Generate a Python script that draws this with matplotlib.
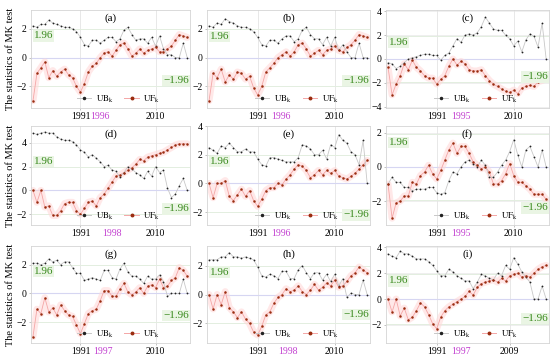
import numpy as np
import matplotlib
matplotlib.use("Agg")
import matplotlib.pyplot as plt
from matplotlib.lines import Line2D

plt.rcParams['font.family'] = ['Liberation Serif', 'DejaVu Serif']
plt.rcParams['mathtext.fontset'] = 'stix'

years = list(range(1979, 2019))
panel_labels = ['(a)', '(b)', '(c)', '(d)', '(e)', '(f)', '(g)', '(h)', '(i)']
change_years = [1996, 1996, 1995, 1998, 1996, 1995, 1997, 1998, 1997]
end_ticks = [2010, 2010, 2010, 2010, 2010, 2010, 2010, 2010, 2009]

uf_a = [-3.0, -1.1, -0.7, -0.3, -1.4, -0.9, -1.3, -1.0, -0.8, -1.2, -1.4, -2.0, -2.4, -1.8, -1.0, -0.6, -0.4, 0.0, 0.3, 0.4,
        0.1, 0.5, 0.9, 1.0, 0.6, 0.1, 0.3, 0.6, 0.3, 0.5, 0.6, 0.7, 0.4, 0.4, 0.6, 0.8, 1.2, 1.6, 1.5, 1.4]
ub_a = [2.2, 2.1, 2.3, 2.3, 2.6, 2.4, 2.3, 2.2, 2.1, 2.1, 2.0, 1.8, 1.4, 0.9, 0.8, 1.2, 1.2, 1.0, 1.2, 1.4,
        1.4, 1.1, 1.3, 1.9, 2.1, 1.6, 1.2, 1.3, 1.3, 1.0, 1.4, 0.8, 1.5, 0.6, 0.2, 0.2, 0.0, 0.0, 1.0, 0.0]

uf_b = [-3.0, -1.1, -1.4, -0.8, -1.7, -1.2, -1.5, -1.0, -1.1, -1.5, -1.3, -2.1, -2.6, -2.0, -1.0, -0.7, -0.4, 0.0, 0.2, 0.4,
        0.1, 0.4, 0.9, 1.0, 0.6, 0.1, 0.3, 0.5, 0.2, 0.5, 0.6, 0.8, 0.5, 0.4, 0.7, 0.9, 1.2, 1.6, 1.5, 1.4]
ub_b = [2.2, 2.1, 2.4, 2.3, 2.7, 2.5, 2.4, 2.2, 2.1, 2.1, 2.0, 1.8, 1.4, 0.9, 0.8, 1.2, 1.2, 1.0, 1.3, 1.5,
        1.5, 1.1, 1.3, 1.9, 2.1, 1.6, 1.3, 1.3, 0.9, 1.4, 0.8, 1.4, 0.5, 0.9, 0.4, 0.0, 0.0, 1.0, 0.0, 0.0]

uf_c = [-0.7, -3.0, -2.1, -1.4, -0.4, -0.9, -0.1, -0.7, -1.0, -1.4, -1.6, -1.6, -2.1, -1.7, -1.4, -0.6, 0.0, -0.5, -0.2, -0.4,
        -0.9, -1.0, -1.0, -0.9, -1.4, -1.8, -2.1, -2.3, -2.5, -2.7, -2.8, -2.6, -2.9, -2.4, -2.3, -2.2, -2.3, -1.9, -1.8, -1.6]
ub_c = [-0.3, -0.4, -0.8, -0.6, -0.3, 0.0, 0.1, 0.2, 0.3, 0.4, 0.4, 0.3, 0.3, -0.1, 0.3, 0.5, 1.1, 1.7, 1.4, 2.0,
        2.1, 2.0, 2.2, 2.7, 3.5, 3.0, 2.5, 2.4, 2.4, 2.0, 1.7, 1.1, 1.5, 0.6, 1.6, 2.1, 1.9, 1.0, 3.0, 0.0]

uf_d = [0.0, -1.0, 0.0, -1.4, -1.3, -2.1, -2.1, -1.7, -1.1, -1.0, -1.0, -1.7, -2.0, -1.5, -1.0, -0.9, -1.3, -0.6, -0.3, 0.2,
        0.7, 1.2, 1.3, 1.5, 1.7, 1.9, 2.2, 2.6, 2.5, 2.8, 2.9, 3.0, 3.1, 3.2, 3.4, 3.6, 3.8, 3.9, 3.9, 3.9]
ub_d = [4.8, 4.7, 4.8, 4.9, 4.8, 4.8, 4.5, 4.3, 4.2, 4.2, 4.1, 3.8, 3.4, 3.2, 2.8, 3.0, 2.7, 2.4, 2.0, 2.1,
        1.7, 1.6, 1.1, 1.5, 2.0, 1.8, 1.5, 1.3, 1.0, 1.6, 1.2, 2.0, 1.5, 1.7, 0.2, -0.6, -0.3, 0.4, 1.0, 0.0]

uf_e = [0.0, -1.0, 0.0, 0.0, 0.2, -0.9, -1.2, -0.8, -0.4, -0.9, -0.5, -1.2, -1.6, -1.1, -0.5, -0.3, -0.3, 0.0, -0.1, 0.3,
        0.6, 1.0, 1.3, 1.2, 0.9, 0.4, 0.6, 0.9, 0.6, 0.9, 0.7, 0.9, 0.5, 0.4, 0.3, 0.5, 0.7, 1.0, 1.3, 1.6]
ub_e = [2.5, 2.3, 2.1, 2.6, 2.5, 2.8, 2.5, 2.2, 2.2, 2.4, 2.2, 2.2, 1.7, 1.3, 1.2, 1.8, 1.8, 1.7, 1.6, 1.5,
        1.5, 1.5, 1.8, 2.7, 2.6, 2.4, 2.0, 2.0, 2.3, 1.7, 2.7, 2.5, 3.4, 3.0, 2.8, 2.2, 2.0, 1.3, 3.0, 0.0]

uf_f = [-1.0, -3.0, -2.1, -2.0, -1.7, -1.7, -0.9, -1.0, -0.5, -0.3, 0.1, -0.4, -0.7, -0.2, 0.4, 1.0, 1.4, 0.8, 1.2, 1.2,
        0.8, 0.3, 0.1, -0.1, 0.0, -0.3, -1.0, -1.0, -0.8, -0.4, 0.2, -0.5, -0.9, -0.9, -1.1, -1.3, -1.6, -1.6, -1.6, -1.9]
ub_f = [-1.0, -0.6, -0.9, -0.9, -1.2, -1.2, -1.4, -1.3, -1.3, -1.3, -1.2, -1.2, -1.5, -1.6, -1.5, -0.8, -0.3, -0.4, 0.0, 0.3,
        0.4, 0.2, 0.0, 0.4, 0.1, -0.6, -0.6, -0.3, 0.1, 0.4, 0.9, 1.6, 0.7, 0.0, 1.0, 1.2, 0.6, 0.0, 1.0, 0.0]

uf_g = [-3.0, -1.1, -1.4, -0.3, -1.3, -1.0, -1.5, -0.8, -1.2, -1.5, -1.6, -2.2, -2.8, -2.1, -1.4, -1.2, -1.1, -0.5, 0.2, 0.2,
        -0.2, -0.2, 0.3, 0.7, 0.1, -0.1, 0.1, 0.4, 0.0, 0.5, 0.6, 0.4, 1.0, 0.4, 0.5, 0.9, 1.1, 1.8, 1.6, 1.2]
ub_g = [2.1, 2.1, 2.0, 2.1, 2.4, 2.2, 2.3, 2.0, 2.2, 2.2, 1.8, 1.4, 1.4, 0.9, 1.0, 1.1, 1.0, 0.9, 1.6, 1.6,
        1.1, 1.0, 1.7, 2.1, 1.5, 1.2, 1.2, 1.0, 0.7, 1.2, 1.0, 1.0, 1.3, 0.8, -0.2, 0.0, 0.0, 0.0, 1.0, 0.0]

uf_h = [0.0, -1.0, 0.0, -0.7, 0.2, -0.9, -1.2, -1.6, -1.2, -1.7, -2.0, -2.6, -2.8, -2.2, -1.4, -1.2, -0.6, -0.2, 0.0, 0.4,
        0.2, 0.3, 0.6, 0.2, 0.0, 0.3, 0.7, 0.3, 0.5, 0.8, 0.6, 1.0, 0.5, 0.6, 0.9, 1.3, 1.5, 1.9, 1.7, 1.5]
ub_h = [2.4, 2.4, 2.4, 2.6, 2.6, 2.9, 2.6, 2.6, 2.5, 2.6, 2.5, 2.4, 1.9, 1.3, 1.2, 1.4, 1.3, 1.1, 1.6, 1.6,
        1.1, 1.1, 1.7, 2.0, 1.5, 1.1, 1.5, 1.5, 1.0, 1.4, 0.9, 1.4, 0.6, 1.1, -0.2, 0.1, 0.0, 0.0, 1.0, 0.0]

uf_i = [0.0, -1.0, 0.0, -1.3, -0.7, -1.6, -1.4, -0.9, -0.3, -0.6, -1.2, -1.9, -2.3, -1.4, -0.9, -0.6, -0.4, -0.2, 0.0, 0.2,
        0.6, 0.3, 0.9, 1.2, 1.3, 1.4, 1.5, 1.3, 1.6, 1.4, 1.8, 1.9, 2.0, 1.7, 1.8, 1.7, 2.0, 2.3, 2.5, 2.6]
ub_i = [3.5, 3.3, 3.2, 3.7, 3.5, 3.5, 3.3, 3.1, 3.1, 3.1, 2.9, 2.6, 2.2, 1.8, 1.8, 2.3, 2.1, 1.8, 1.6, 1.4,
        1.4, 0.8, 1.3, 1.9, 1.8, 1.6, 1.5, 2.0, 1.8, 2.6, 2.3, 3.2, 2.7, 2.1, 1.7, 1.3, 0.0, 0.0, 1.0, 0.0]

uf_all = [uf_a, uf_b, uf_c, uf_d, uf_e, uf_f, uf_g, uf_h, uf_i]
ub_all = [ub_a, ub_b, ub_c, ub_d, ub_e, ub_f, ub_g, ub_h, ub_i]

# layout / style
ylims = [(-3.5, 3.3), (-3.5, 3.3), (-4.1, 4.1), (-2.9, 5.4), (-2.9, 4.0), (-3.4, 2.4),
         (-3.45, 3.3), (-3.35, 3.35), (-3.4, 4.1)]
yticks = [[-2, 0, 2], [-2, 0, 2], [-4, -2, 0, 2, 4], [-2, 0, 2, 4], [-2, 0, 2, 4], [-2, 0, 2],
          [-2, 0, 2], [-2, 0, 2], [-2, 0, 2, 4]]
pos_y = [1.5, 1.45, 1.35, 2.4, 1.5, 1.45, 1.5, 1.55, 1.4]
neg_y = [-1.6, -1.6, -1.5, -1.55, -2.2, -2.4, -1.55, -1.4, -1.5]
# where the change-year label sits along the axis (label placement only)
cp_label_x = [1995.8, 1996.8, 1997.0, 1999.0, 1996.8, 1997.0, 1996.8, 1998.5, 1997.0]

W, H = 550, 361
fig = plt.figure(figsize=(5.5, 3.61), dpi=100)
col_px = [(31, 159), (207, 163), (386, 163)]
row_px = [(10, 98), (126, 99), (246, 97)]

uf_dot = '#9a2d10'
uf_line = '#f4a6a6'
ub_line = '#c8c8c8'
green = '#3a8a1e'
magenta = '#c23fd0'

for k in range(9):
    r, c = divmod(k, 3)
    x0, w = col_px[c]
    y0, h = row_px[r]
    ax = fig.add_axes([x0 / W, 1 - (y0 + h) / H, w / W, h / H])
    ax.set_xlim(1978.5, 2018.7)
    ax.set_ylim(*ylims[k])
    for s in ax.spines.values():
        s.set_color('#d4d4d4')
        s.set_linewidth(0.6)
    ax.set_yticks(yticks[k])
    ax.set_xticks([1991, cp_label_x[k], end_ticks[k]])
    ax.set_xticklabels([str(1991), str(change_years[k]), str(end_ticks[k])])
    ax.get_xticklabels()[1].set_color(magenta)
    ax.tick_params(axis='both', labelsize=7, length=1.5, width=0.5, color='#aaaaaa', pad=1.5)
    ax.xaxis.get_major_ticks()[1].tick1line.set_visible(False)
    for yt in yticks[k]:
        ax.axhline(yt, color='#ececec', lw=0.6, zorder=0)
    for xt in [1991, end_ticks[k]]:
        ax.axvline(xt, color='#e4e4e4', lw=0.6, zorder=0)
    ax.axhline(0, color='#d6d6f2', lw=0.8, zorder=0.5)
    ax.axhline(1.96, color='#e3eee0', lw=0.7, zorder=0.5)
    ax.axhline(-1.96, color='#e3eee0', lw=0.7, zorder=0.5)

    ax.plot(years, uf_all[k], color='#ffd9d9', lw=5, alpha=0.6, solid_capstyle='round', zorder=1)
    ax.plot(years, uf_all[k], color=uf_line, lw=0.6, zorder=2)
    ax.plot(years, ub_all[k], color=ub_line, lw=0.6, zorder=2)
    ax.plot(years, ub_all[k], ls='none', marker='o', ms=1.3, color='#222222', mew=0, zorder=3)
    ax.plot(years, uf_all[k], ls='none', marker='o', ms=1.8, color=uf_dot, mew=0, zorder=3)

    ax.text(0.5, 0.97, panel_labels[k], transform=ax.transAxes, ha='center', va='top', fontsize=8)
    ax.text(1979.2, pos_y[k], '1.96', color=green, fontsize=8, ha='left', va='center',
            bbox=dict(boxstyle='square,pad=0.1', fc='#eaf5e4', ec='none'))
    ax.text(2018.5, neg_y[k], '\u22121.96', color=green, fontsize=8, ha='right', va='center',
            bbox=dict(boxstyle='square,pad=0.1', fc='#eaf5e4', ec='none'))

    handles = [Line2D([], [], color=ub_line, lw=0.7, marker='o', ms=1.5, mfc='#222222', mec='#222222'),
               Line2D([], [], color=uf_line, lw=0.7, marker='o', ms=1.8, mfc=uf_dot, mec=uf_dot)]
    ax.legend(handles, ['$\\mathrm{UB_k}$', '$\\mathrm{UF_k}$'], loc='lower center',
              bbox_to_anchor=(0.55, -0.02), ncol=2, frameon=False, fontsize=6.5,
              handlelength=1.6, columnspacing=1.2, handletextpad=0.5, borderaxespad=0.2)
    if c == 0:
        ax.set_ylabel('The statistics of MK test', fontsize=7.5, labelpad=1)

fig.savefig('out.png', dpi=100)
